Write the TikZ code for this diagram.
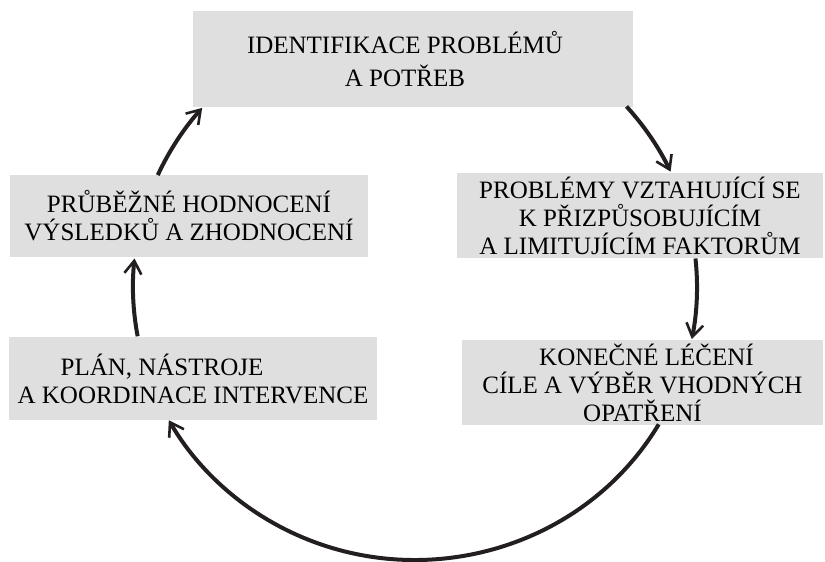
\documentclass[tikz,border=0pt]{standalone}
\usepackage{fontspec}
\setmainfont{Liberation Serif}
\usetikzlibrary{arrows.meta}
\definecolor{boxgray}{RGB}{223,223,223}
\definecolor{ink}{RGB}{35,31,32}
\begin{document}
\begin{tikzpicture}[x=1pt,y=1pt,
  box/.style={fill=boxgray, inner sep=0pt, align=center,
    font=\fontsize{25}{28}\selectfont},
  cyc/.style={draw=ink, line width=4pt,
    -{Straight Barb[length=13pt,width=17pt,line width=2.6pt]}}]
\useasboundingbox (0,0) rectangle (825,562);

% stages of the cycle
\node[box, minimum width=440pt, minimum height=96pt,
  font=\fontsize{25}{33}\selectfont] (ident) at (413,503)
  {IDENTIFIKACE PROBLÉMŮ\hspace*{16pt}\\A POTŘEB\hspace*{16pt}};
\node[box, minimum width=366pt, minimum height=85pt] (prob) at (640,346.5)
  {PROBLÉMY VZTAHUJÍCÍ SE\\K PŘIZPŮSOBUJÍCÍM\\A LIMITUJÍCÍM FAKTORŮM};
\node[box, minimum width=361pt, minimum height=85pt] (goal) at (642.5,179.5)
  {\hspace*{8pt}KONEČNÉ LÉČENÍ\\CÍLE A VÝBĚR VHODNÝCH\\OPATŘENÍ};
\node[box, minimum width=368pt, minimum height=83pt] (plan) at (193,183.5)
  {PLÁN, NÁSTROJE\hspace*{62pt}\\A KOORDINACE INTERVENCE};
\node[box, minimum width=358pt, minimum height=82pt] (eval) at (189,346)
  {PRŮBĚŽNÉ HODNOCENÍ\\VÝSLEDKŮ A ZHODNOCENÍ};

% clockwise cycle on one ellipse
\coordinate (c) at (415,275);
\def\rx{282}\def\ry{273}
\draw[cyc] (c) ++(41.4:\rx pt and \ry pt)
  arc[start angle=41.4, end angle=25, x radius=\rx pt, y radius=\ry pt];
\draw[cyc] (c) ++(6:\rx pt and \ry pt)
  arc[start angle=6, end angle=-11, x radius=\rx pt, y radius=\ry pt];
\draw[cyc] (c) ++(-30.2:\rx pt and \ry pt)
  arc[start angle=-30.2, end angle=-150.8, x radius=\rx pt, y radius=\ry pt];
\draw[cyc] (c) ++(190.4:\rx pt and \ry pt)
  arc[start angle=190.4, end angle=174, x radius=\rx pt, y radius=\ry pt];
\draw[cyc] (c) ++(155.8:\rx pt and \ry pt)
  arc[start angle=155.8, end angle=139, x radius=\rx pt, y radius=\ry pt];
\end{tikzpicture}
\end{document}
